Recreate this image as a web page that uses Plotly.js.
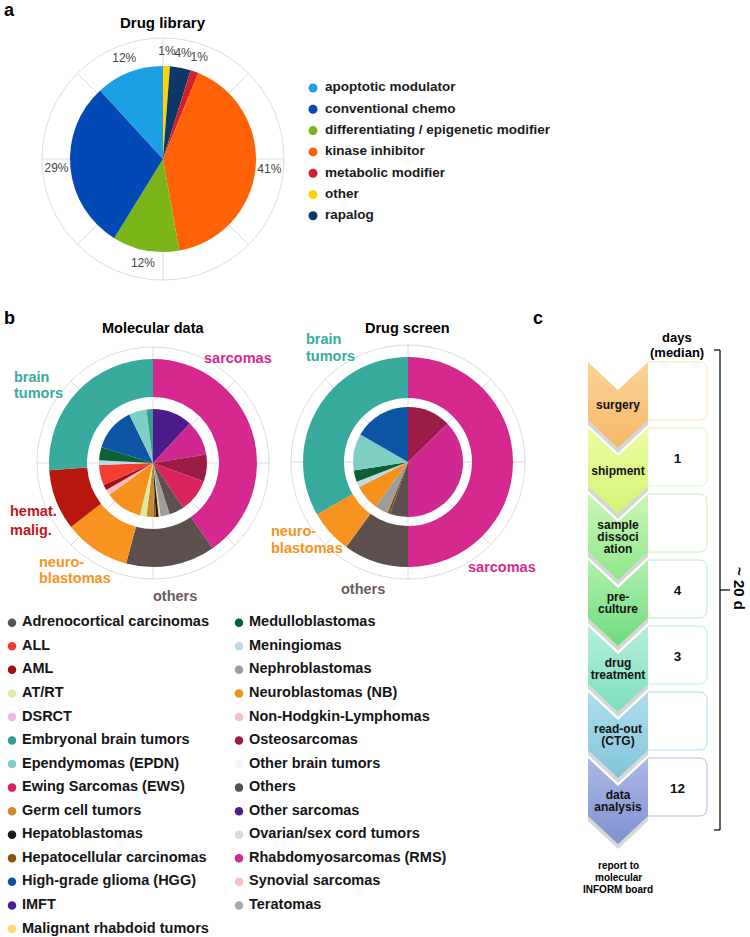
<!DOCTYPE html>
<html><head><meta charset="utf-8">
<script src="https://cdn.plot.ly/plotly-3.0.1.min.js"></script>
<style>html,body{margin:0;padding:0;background:#fff}#chart{width:750px;height:937px}</style>
</head><body><div id="chart"></div>
<script>
// ================= DATA =================
// Panel a: drug library, slices clockwise from 12 o'clock
const drugClasses = ['other','rapalog','metabolic modifier','kinase inhibitor','differentiating / epigenetic modifier','conventional chemo','apoptotic modulator'];
const drugShares  = [1.2, 3.6, 1.4, 41.0, 11.6, 29.4, 11.8];
const drugLegend  = ['apoptotic modulator','conventional chemo','differentiating / epigenetic modifier','kinase inhibitor','metabolic modifier','other','rapalog'];

// Panel b: entity groups (outer ring), clockwise from 12 o'clock
const groups        = ['sarcomas','others','neuroblastomas','hemat. malig.','brain tumors'];
const molGroupVals  = [145, 50, 37, 34, 94];
const scrGroupVals  = [180, 36, 24, 0, 120];

// Panel b: entities (legend, alphabetical)
const entityNames = ['Adrenocortical carcinomas','ALL','AML','AT/RT','DSRCT','Embryonal brain tumors','Ependymomas (EPDN)','Ewing Sarcomas (EWS)','Germ cell tumors','Hepatoblastomas','Hepatocellular carcinomas','High-grade glioma (HGG)','IMFT','Malignant rhabdoid tumors','Medulloblastomas','Meningiomas','Nephroblastomas','Neuroblastomas (NB)','Non-Hodgkin-Lymphomas','Osteosarcomas','Other brain tumors','Others','Other sarcomas','Ovarian/sex cord tumors','Rhabdomyosarcomas (RMS)','Synovial sarcomas','Teratomas'];

// Inner pies, clockwise from 12 o'clock
const molEntities = ['Other sarcomas','Rhabdomyosarcomas (RMS)','Osteosarcomas','Ewing Sarcomas (EWS)','Others','Nephroblastomas','Malignant rhabdoid tumors','Hepatoblastomas','Hepatocellular carcinomas','Germ cell tumors','AT/RT','Neuroblastomas (NB)','Non-Hodgkin-Lymphomas','AML','ALL','Meningiomas','Medulloblastomas','High-grade glioma (HGG)','Ependymomas (EPDN)','Embryonal brain tumors'];
const molValues   = [43, 38, 29, 36, 16, 10, 2, 3, 2, 8, 7, 40, 6, 6, 22, 5, 14, 47, 19, 7];
const scrEntities = ['Osteosarcomas','Rhabdomyosarcomas (RMS)','Others','Hepatocellular carcinomas','Nephroblastomas','Neuroblastomas (NB)','Meningiomas','Medulloblastomas','Ependymomas (EPDN)','High-grade glioma (HGG)'];
const scrValues   = [46, 134, 19, 3, 14, 27, 6, 12, 39, 60];

// Panel c: workflow
const steps = ['surgery','shipment','sample\ndissoci\nation','pre-\nculture','drug\ntreatment','read-out\n(CTG)','data\nanalysis'];
const days  = [null, 1, null, 4, 3, null, 12];

// ================= STYLES =================
const drugColorMap = {'apoptotic modulator':'#1c9fe3','conventional chemo':'#0349b6','differentiating / epigenetic modifier':'#7bb51a','kinase inhibitor':'#ff6206','metabolic modifier':'#d4202b','other':'#ffd200','rapalog':'#0c3868'};
const groupColorMap = {'sarcomas':'#d5298f','others':'#5e4f4f','neuroblastomas':'#f7931e','hemat. malig.':'#b8170f','brain tumors':'#38ab9e'};
const entityColors = ['#5e5050','#f23d30','#a01212','#dcec9e','#f2b6dc','#379c91','#80cfc5','#da245c','#c98a2e','#1b1b1b','#8a5212','#0d55a4','#4c1e8f','#fdd97a','#0c5f37','#bcd8eb','#9d9d9d','#f7911e','#f9c0c4','#9a1b46','#f2f6fb','#5e5050','#4b1d8c','#d9d9d9','#cf2890','#f8c1c8','#a9a9a9'];
const entityColor = n => entityColors[entityNames.indexOf(n)];
const stepTop    = ['#fad49c','#ebfca2','#cdf7b8','#b3efb0','#b8efdc','#b0dded','#adb9e5'];
const stepBottom = ['#f6b865','#d3f576','#8ee78a','#6edb7c','#7bdebd','#80c5dc','#7d91d1'];
const stepBorder = ['#fbe2a6','#e4f7a9','#c6f0b9','#b9eec6','#b9efdc','#addcee','#b1bce8'];

const W = 750, H = 937;
const FONT = 'Liberation Sans, Arial, sans-serif';
const px = x => x / W, py = y => 1 - y / H;
const dom = (cx, cy, r) => ({x: [px(cx - r), px(cx + r)], y: [py(cy + r), py(cy - r)]});
const GRID = '#dcdcdc';

function polarGrid(cx, cy, r) {
  return {domain: dom(cx, cy, r), bgcolor: 'rgba(0,0,0,0)',
    angularaxis: {rotation: 90, direction: 'clockwise', tickmode: 'linear', tick0: 0, dtick: 45,
      showgrid: true, gridcolor: GRID, gridwidth: 1, showline: true, linecolor: GRID, linewidth: 1,
      showticklabels: false, ticks: ''},
    radialaxis: {visible: false, range: [0, 1]}};
}

const traces = [];

// ---------- Panel a ----------
const A = {cx: 163, cy: 159, r: 93, grid: 121, lab: 107};
traces.push({type: 'pie', values: drugShares, labels: drugClasses,
  marker: {colors: drugClasses.map(c => drugColorMap[c]), line: {width: 0}},
  sort: false, direction: 'clockwise', rotation: 0, textinfo: 'none', hoverinfo: 'none',
  domain: dom(A.cx, A.cy, A.r), showlegend: false});
(function () {
  const tot = drugShares.reduce((a, b) => a + b, 0);
  let cum = 0; const th = [], tx = [];
  drugShares.forEach(v => { th.push((cum + v / 2) / tot * 360); cum += v; tx.push(Math.round(v / tot * 100) + '%'); });
  traces.push({type: 'scatterpolar', subplot: 'polar', mode: 'text', theta: th, r: th.map(() => A.lab / A.grid),
    text: tx, textposition: 'middle center', textfont: {family: FONT, size: 12, color: '#444'}, hoverinfo: 'skip', showlegend: false});
})();
// legend a
traces.push({type: 'scatter', xaxis: 'x', yaxis: 'y', mode: 'markers', x: drugLegend.map(() => 313), y: drugLegend.map((_, i) => 88 + i * 21.3),
  marker: {size: 9, color: drugLegend.map(c => drugColorMap[c])}, hoverinfo: 'skip', showlegend: false});
traces.push({type: 'scatter', xaxis: 'x', yaxis: 'y', mode: 'text', x: drugLegend.map(() => 325), y: drugLegend.map((_, i) => 88 + i * 21.3),
  text: drugLegend, textposition: 'middle right', textfont: {family: FONT, size: 13.5, color: '#1a1a1a', weight: 'bold'}, hoverinfo: 'skip', showlegend: false});

// ---------- Panel b ----------
function donut(cx, cy, rOut, rHole, rIn, gvals, ents, evals) {
  traces.push({type: 'pie', values: gvals, labels: groups, marker: {colors: groups.map(g => groupColorMap[g]), line: {width: 0}},
    hole: rHole / rOut, sort: false, direction: 'clockwise', rotation: 0, textinfo: 'none', hoverinfo: 'none',
    domain: dom(cx, cy, rOut), showlegend: false});
  traces.push({type: 'pie', values: evals, labels: ents, marker: {colors: ents.map(entityColor), line: {width: 0}},
    sort: false, direction: 'clockwise', rotation: 0, textinfo: 'none', hoverinfo: 'none',
    domain: dom(cx, cy, rIn), showlegend: false});
}
const M = {cx: 153, cy: 463, r: 104, hole: 66, inner: 54, grid: 116};
const S = {cx: 408, cy: 462, r: 105, hole: 64, inner: 55, grid: 117};
donut(M.cx, M.cy, M.r, M.hole, M.inner, molGroupVals, molEntities, molValues);
donut(S.cx, S.cy, S.r, S.hole, S.inner, scrGroupVals, scrEntities, scrValues);

// legend b (two columns)
const ROWS = 14, ly0 = 622.7, ldy = 23.56;
const lx = i => (i < ROWS ? 12 : 239), lyy = i => ly0 + (i % ROWS) * ldy;
traces.push({type: 'scatter', xaxis: 'x', yaxis: 'y', mode: 'markers', x: entityNames.map((_, i) => lx(i)), y: entityNames.map((_, i) => lyy(i)),
  marker: {size: 8.5, color: entityColors}, hoverinfo: 'skip', showlegend: false});
traces.push({type: 'scatter', xaxis: 'x', yaxis: 'y', mode: 'text', x: entityNames.map((_, i) => lx(i) + 10), y: entityNames.map((_, i) => lyy(i)),
  text: entityNames, textposition: 'middle right', textfont: {family: FONT, size: 14.5, color: '#151515', weight: 'bold'}, hoverinfo: 'skip', showlegend: false});

// ---------- Panel c ----------
const C = {x0: 588, x1: 648, xc: 618, top: 362, pitch: 66, notch: 28, side: 58, bx: 707, rad: 8};
steps.forEach((s, i) => {
  const y0 = C.top + i * C.pitch;
  traces.push({type: 'scatter', xaxis: 'x', yaxis: 'y', mode: 'lines', fill: 'toself', fillcolor: 'rgba(0,0,0,0.16)', line: {width: 0},
    x: [C.x0, C.xc, C.x1, C.x1, C.xc, C.x0, C.x0], y: [y0, y0 + C.notch, y0, y0 + C.side, y0 + C.side + C.notch, y0 + C.side, y0].map(v => v + 5),
    hoverinfo: 'skip', showlegend: false});
});
steps.forEach((s, i) => {
  const y0 = C.top + i * C.pitch;
  traces.push({type: 'scatter', xaxis: 'x', yaxis: 'y', mode: 'lines', fill: 'toself', line: {width: 0},
    fillgradient: {type: 'vertical', start: y0, stop: y0 + C.side + C.notch, colorscale: [[0, stepTop[i]], [1, stepBottom[i]]]},
    x: [C.x0, C.xc, C.x1, C.x1, C.xc, C.x0, C.x0], y: [y0, y0 + C.notch, y0, y0 + C.side, y0 + C.side + C.notch, y0 + C.side, y0],
    hoverinfo: 'skip', showlegend: false});
});
(function () {
  const xs = [], ys = [], ts = [];
  steps.forEach((s, i) => {
    const lines = s.split('\n'), yc = C.top + i * C.pitch + 44;
    lines.forEach((l, j) => { xs.push(C.xc); ys.push(yc + (j - (lines.length - 1) / 2) * 12.3); ts.push(l); });
  });
  traces.push({type: 'scatter', xaxis: 'x', yaxis: 'y', mode: 'text', x: xs, y: ys, text: ts, textposition: 'middle center',
    textfont: {family: FONT, size: 12, color: '#111', weight: 'bold'}, hoverinfo: 'skip', showlegend: false});
  traces.push({type: 'scatter', xaxis: 'x', yaxis: 'y', mode: 'text', x: days.map(() => (C.x1 + C.bx) / 2), y: days.map((_, i) => C.top + i * C.pitch + 32),
    text: days.map(d => d == null ? '' : String(d)), textposition: 'middle center',
    textfont: {family: FONT, size: 13.5, color: '#111', weight: 'bold'}, hoverinfo: 'skip', showlegend: false});
})();

const shapes = [];
steps.forEach((s, i) => {
  const y0 = C.top + i * C.pitch, y1 = y0 + C.side, r = C.rad;
  shapes.push({type: 'path', xref: 'x', yref: 'y', line: {color: stepBorder[i], width: 1},
    path: `M ${C.x1} ${y0} L ${C.bx - r} ${y0} Q ${C.bx} ${y0} ${C.bx} ${y0 + r} L ${C.bx} ${y1 - r} Q ${C.bx} ${y1} ${C.bx - r} ${y1} L ${C.x1} ${y1}`});
});
// bracket
const br = {x: 720, y0: 350, y1: 830, ym: 590};
[[br.x - 6, br.y0, br.x, br.y0], [br.x, br.y0, br.x, br.y1], [br.x - 6, br.y1, br.x, br.y1], [br.x, br.ym, br.x + 10, br.ym]].forEach(l =>
  shapes.push({type: 'line', xref: 'x', yref: 'y', x0: l[0], y0: l[1], x1: l[2], y1: l[3], line: {color: '#111', width: 1.3}}));

// ---------- text ----------
function ann(text, x, y, o = {}) {
  return {text: text, x: px(x), y: py(y), xref: 'paper', yref: 'paper', showarrow: false,
    xanchor: o.xa || 'center', yanchor: 'middle', textangle: o.angle || 0,
    font: {family: FONT, size: o.size || 14.5, color: o.color || '#000', weight: o.weight || 'bold'}};
}
const annotations = [
  ann('a', 9, 10, {size: 18}), ann('b', 9, 318, {size: 18}), ann('c', 538, 318, {size: 18}),
  ann('Drug library', 163, 22, {size: 15}),
  ann('Molecular data', 153, 328, {size: 14.5}), ann('Drug screen', 407, 328, {size: 14.5}),
  // molecular group labels
  ann('sarcomas', 202, 358, {xa: 'left', color: groupColorMap['sarcomas']}),
  ann('brain', 12, 377, {xa: 'left', color: groupColorMap['brain tumors']}), ann('tumors', 12, 393, {xa: 'left', color: groupColorMap['brain tumors']}),
  ann('hemat.', 8, 511, {xa: 'left', color: '#c0161a'}), ann('malig.', 8, 530, {xa: 'left', color: '#c0161a'}),
  ann('neuro-', 37, 562, {xa: 'left', color: groupColorMap['neuroblastomas']}), ann('blastomas', 37, 578, {xa: 'left', color: groupColorMap['neuroblastomas']}),
  ann('others', 175, 596, {color: '#6a5c5c'}),
  // screen group labels
  ann('brain', 304, 339, {xa: 'left', color: groupColorMap['brain tumors']}), ann('tumors', 304, 356, {xa: 'left', color: groupColorMap['brain tumors']}),
  ann('neuro-', 269, 531, {xa: 'left', color: groupColorMap['neuroblastomas']}), ann('blastomas', 269, 548, {xa: 'left', color: groupColorMap['neuroblastomas']}),
  ann('sarcomas', 466, 567, {xa: 'left', color: groupColorMap['sarcomas']}),
  ann('others', 363, 589, {color: '#6a5c5c'}),
  // panel c
  ann('days', 677, 337, {size: 13}), ann('(median)', 677, 352, {size: 13}),
  ann('report to', 618, 865, {size: 10}), ann('molecular', 618, 877, {size: 10}), ann('INFORM board', 618, 889, {size: 10}),
  ann('~ 20 d', 740, 588, {size: 15, angle: 90})
];

const layout = {
  width: W, height: H, margin: {l: 0, r: 0, t: 0, b: 0}, paper_bgcolor: '#fff', plot_bgcolor: 'rgba(0,0,0,0)',
  showlegend: false, font: {family: FONT},
  xaxis: {domain: [0, 1], range: [0, W], visible: false, fixedrange: true},
  yaxis: {domain: [0, 1], range: [H, 0], visible: false, fixedrange: true},
  polar: polarGrid(A.cx, A.cy, A.grid),
  polar2: polarGrid(M.cx, M.cy, M.grid),
  polar3: polarGrid(S.cx, S.cy, S.grid),
  shapes: shapes, annotations: annotations
};
traces.push({type: 'scatterpolar', subplot: 'polar2', r: [], theta: [], mode: 'markers', hoverinfo: 'skip', showlegend: false});
traces.push({type: 'scatterpolar', subplot: 'polar3', r: [], theta: [], mode: 'markers', hoverinfo: 'skip', showlegend: false});

Plotly.newPlot('chart', traces, layout, {staticPlot: true, displayModeBar: false});
</script></body></html>
